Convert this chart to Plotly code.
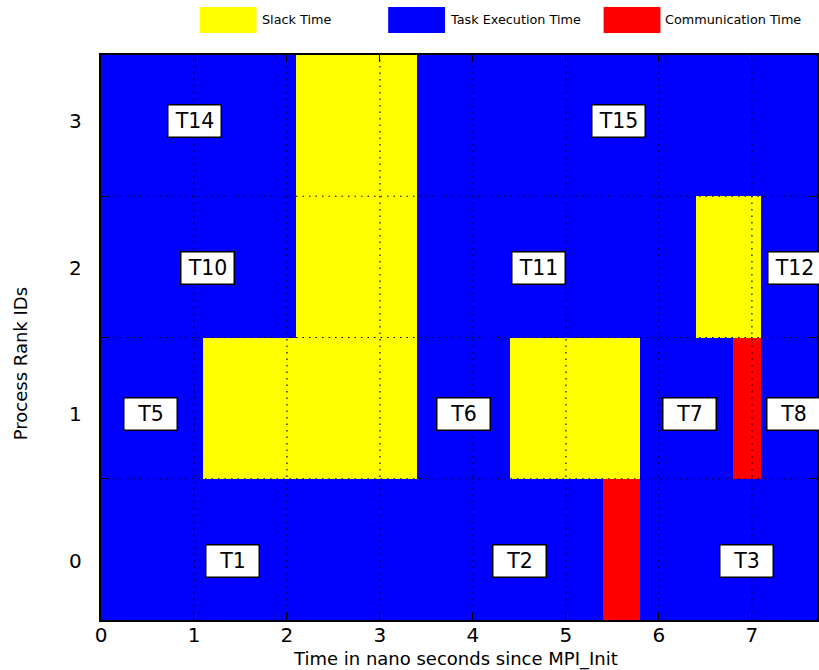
import plotly.graph_objects as go

# ---- data ----
ranks = [0, 1, 2, 3]
rank_label_y = [-0.08, 0.96, 1.99, 3.03]

seg_rank = [0, 0, 0,
            1, 1, 1, 1, 1, 1, 1,
            2, 2, 2, 2, 2,
            3, 3, 3]
seg_start = [0.0, 5.4, 5.8,
             0.0, 1.1, 3.4, 4.4, 5.8, 6.8, 7.1,
             0.0, 2.1, 3.4, 6.4, 7.1,
             0.0, 2.1, 3.4]
seg_end = [5.4, 5.8, 7.9,
           1.1, 3.4, 4.4, 5.8, 6.8, 7.1, 7.9,
           2.1, 3.4, 6.4, 7.1, 7.9,
           2.1, 3.4, 7.9]
seg_type = ["exec", "comm", "exec",
            "exec", "slack", "exec", "slack", "exec", "comm", "exec",
            "exec", "slack", "exec", "slack", "exec",
            "exec", "slack", "exec"]

task_names = ["T1", "T2", "T3", "T5", "T6", "T7", "T8",
              "T10", "T11", "T12", "T14", "T15"]
task_x = [1.41, 4.50, 6.94, 0.53, 3.90, 6.33, 7.45,
          1.15, 4.71, 7.46, 1.01, 5.57]
task_rank = [0, 0, 0, 1, 1, 1, 1, 2, 2, 2, 3, 3]

x_ticks = [0, 1, 2, 3, 4, 5, 6, 7]
y_grid = [0.5, 1.5, 2.5]

types = ["slack", "exec", "comm"]
type_names = {"slack": "Slack Time", "exec": "Task Execution Time", "comm": "Communication Time"}
type_colors = {"slack": "#FFFF00", "exec": "#0000FF", "comm": "#FF0000"}

FONT = "DejaVu Sans"
W, H = 819, 670
ML, MR, MT, MB = 101, 0, 55, 50
PW, PH = W - ML - MR, H - MT - MB

def px_x(p):
    return (p - ML) / PW

def px_y(q):
    return (H - MB - q) / PH

fig = go.Figure()
for t in types:
    ys = [r for r, k in zip(seg_rank, seg_type) if k == t]
    bs = [s for s, k in zip(seg_start, seg_type) if k == t]
    ds = [e - s for s, e, k in zip(seg_start, seg_end, seg_type) if k == t]
    fig.add_trace(go.Bar(
        y=ys, x=ds, base=bs, orientation="h", width=1.0,
        marker=dict(color=type_colors[t], line=dict(width=0)),
        name=type_names[t], showlegend=False, hoverinfo="skip"))

shapes = []
for xv in x_ticks[1:]:
    shapes.append(dict(type="line", xref="x", yref="paper", x0=xv, x1=xv, y0=0, y1=1,
                       line=dict(color="black", width=1.2, dash="1.5px,5px"), layer="above"))
for yv in y_grid:
    shapes.append(dict(type="line", xref="paper", yref="y", x0=0, x1=1, y0=yv, y1=yv,
                       line=dict(color="black", width=1.2, dash="1.5px,5px"), layer="above"))

# legend patches
legend_px = {"slack": (200, 257, 260), "exec": (389, 446, 449), "comm": (605, 662, 665)}
annotations = []
for t in types:
    x0, x1, tx = legend_px[t]
    shapes.append(dict(type="rect", xref="paper", yref="paper",
                       x0=px_x(x0), x1=px_x(x1), y0=px_y(33), y1=px_y(7),
                       fillcolor=type_colors[t], line=dict(width=0)))
    annotations.append(dict(xref="paper", yref="paper", x=px_x(tx), y=px_y(20),
                            xanchor="left", yanchor="middle", showarrow=False,
                            text=type_names[t], font=dict(family=FONT, size=12.8, color="black")))

for name, xv, r in zip(task_names, task_x, task_rank):
    annotations.append(dict(x=xv, y=rank_label_y[r], xref="x", yref="y", text=name,
                            showarrow=False, bgcolor="white", bordercolor="black",
                            borderwidth=1.5, borderpad=5, width=42, height=21,
                            align="center", valign="middle",
                            font=dict(family=FONT, size=20.5, color="black")))

for r, yv in zip(ranks, rank_label_y):
    annotations.append(dict(x=0, y=yv, xref="paper", yref="y", text=str(r),
                            xanchor="right", yanchor="middle", xshift=-17, showarrow=False,
                            font=dict(family=FONT, size=20, color="black")))

annotations.append(dict(xref="paper", yref="paper", x=px_x(456.5), y=px_y(659),
                        xanchor="center", yanchor="middle", showarrow=False,
                        text="Time in nano seconds since MPI_Init",
                        font=dict(family=FONT, size=18, color="black")))
annotations.append(dict(xref="paper", yref="paper", x=px_x(20), y=px_y(364),
                        xanchor="center", yanchor="middle", showarrow=False, textangle=-90,
                        text="Process Rank IDs",
                        font=dict(family=FONT, size=18, color="black")))

fig.update_layout(
    width=W, height=H,
    margin=dict(l=ML, r=MR, t=MT, b=MB),
    paper_bgcolor="white", plot_bgcolor="white",
    barmode="overlay", bargap=0,
    showlegend=False,
    shapes=shapes, annotations=annotations,
    font=dict(family=FONT, color="black"),
    xaxis=dict(range=[0, 7.70], tickvals=x_ticks, ticktext=[str(v) for v in x_ticks],
               showgrid=False, zeroline=False,
               showline=True, linecolor="black", linewidth=1.5, mirror="ticks",
               ticks="inside", ticklen=7, tickwidth=1.2, tickcolor="black",
               ticklabelstandoff=-4,
               tickfont=dict(family=FONT, size=20, color="black"), layer="above traces"),
    yaxis=dict(range=[-0.5, 3.5], tickvals=y_grid, ticktext=["", "", ""],
               showgrid=False, zeroline=False,
               showline=True, linecolor="black", linewidth=1.5, mirror="ticks",
               ticks="inside", ticklen=7, tickwidth=1.2, tickcolor="black",
               layer="above traces"),
)

fig.write_html("out.html", config={"displayModeBar": False},
               post_script="document.body.style.margin='0';document.body.style.overflow='hidden';")
